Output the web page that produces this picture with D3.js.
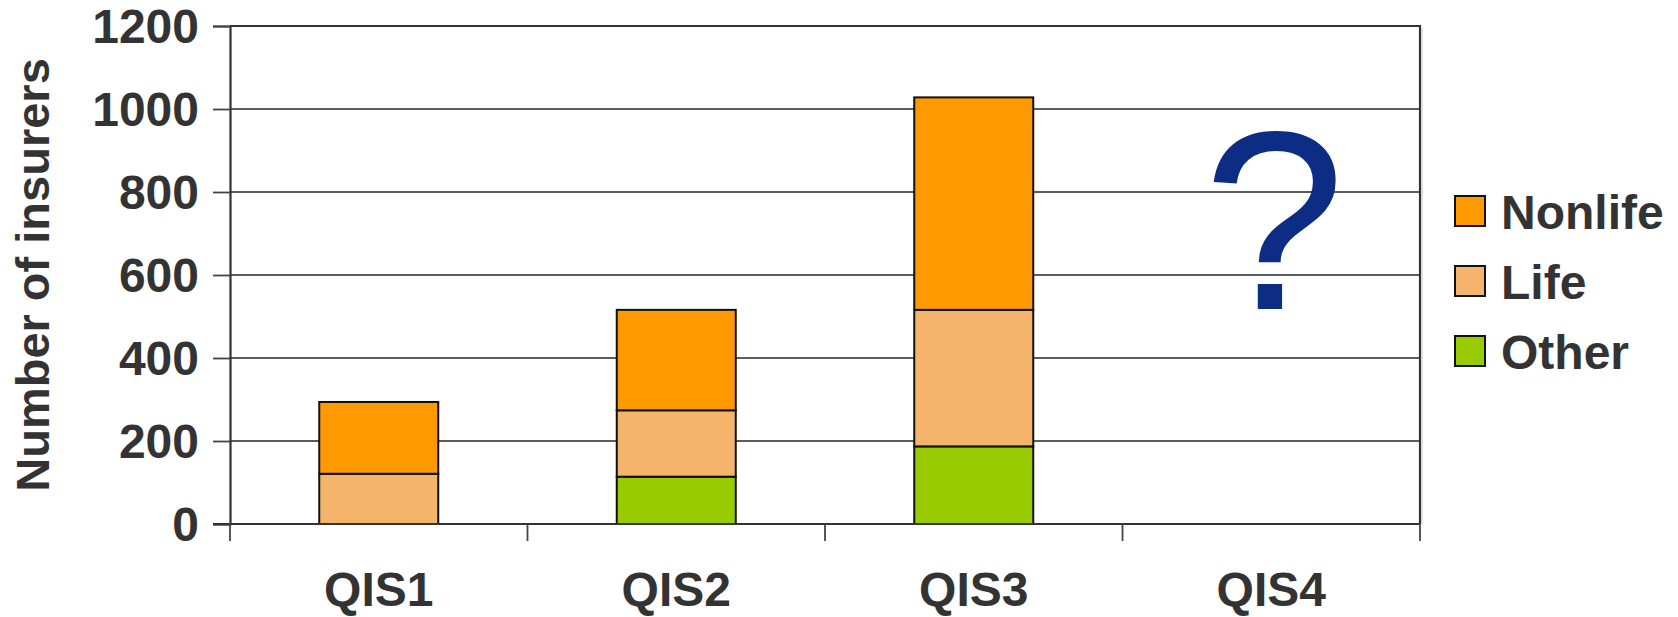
<!DOCTYPE html>
<html>
<head>
<meta charset="utf-8">
<script src="https://cdn.jsdelivr.net/npm/d3@7/dist/d3.min.js"></script>
<style>
  html, body { margin: 0; padding: 0; background: #ffffff; }
  svg { display: block; }
  text { font-family: "Liberation Sans", Arial, sans-serif; }
</style>
</head>
<body>
<svg id="chart" width="1678" height="617"></svg>
<script>
// Quantitative impact study rounds
const categories = ["QIS1", "QIS2", "QIS3", "QIS4"];
// Stack order from the bottom up
const seriesNames = ["Other", "Life", "Nonlife"];
const otherValues   = [0, 114, 187, null];
const lifeValues    = [121, 160, 329, null];
const nonlifeValues = [173, 242, 512, null];
const seriesColors = ["#99cc00", "#f4b46c", "#ff9900"];
const yTicks = [0, 200, 400, 600, 800, 1000, 1200];
const yTitle = "Number of insurers";
const pendingMark = "?";

const svg = d3.select("#chart");
const plotLeft = 230, plotRight = 1420, plotTop = 26, plotBottom = 524;

const x = d3.scaleBand().domain(categories).range([plotLeft, plotRight])
  .paddingInner(0.6).paddingOuter(0.3);
const y = d3.scaleLinear().domain([0, 1200]).range([plotBottom, plotTop]);

const rows = categories.map((c, i) => ({
  cat: c,
  Other: otherValues[i] || 0,
  Life: lifeValues[i] || 0,
  Nonlife: nonlifeValues[i] || 0,
  has: lifeValues[i] != null
}));
const stack = d3.stack().keys(seriesNames)(rows);

// horizontal gridlines
svg.append("g").selectAll("line").data(yTicks.filter(v => v > 0 && v < 1200)).join("line")
  .attr("x1", plotLeft).attr("x2", plotRight)
  .attr("y1", d => y(d)).attr("y2", d => y(d))
  .attr("stroke", "#5c5c5c").attr("stroke-width", 1.8);

// frame: top and right edges
svg.append("line").attr("x1", plotLeft).attr("x2", plotRight + 1)
  .attr("y1", y(1200)).attr("y2", y(1200))
  .attr("stroke", "#333").attr("stroke-width", 2.2);
svg.append("line").attr("x1", plotRight).attr("x2", plotRight)
  .attr("y1", y(1200)).attr("y2", y(0))
  .attr("stroke", "#333").attr("stroke-width", 2.2);
svg.append("line").attr("x1", plotRight + 2).attr("x2", plotRight + 2)
  .attr("y1", y(1200) + 2).attr("y2", y(0))
  .attr("stroke", "#cfcfcf").attr("stroke-width", 1.2);

// stacked bars
svg.append("g").selectAll("g").data(stack).join("g")
  .attr("fill", (d, i) => seriesColors[i])
  .selectAll("rect").data(d => d.filter(s => s.data.has && s[1] > s[0])).join("rect")
  .attr("x", d => x(d.data.cat))
  .attr("width", x.bandwidth())
  .attr("y", d => y(d[1]))
  .attr("height", d => y(d[0]) - y(d[1]))
  .attr("stroke", "#111").attr("stroke-width", 2);

// y axis
const yAxis = svg.append("g").attr("transform", `translate(${plotLeft},0)`)
  .call(d3.axisLeft(y).tickValues(yTicks).tickSize(17).tickPadding(14).tickFormat(d3.format("d")));
yAxis.select(".domain").attr("stroke", "#333").attr("stroke-width", 2.2);
yAxis.selectAll(".tick line").attr("stroke", "#444").attr("stroke-width", 1.8);
yAxis.selectAll(".tick text")
  .attr("font-size", 48).attr("font-weight", "bold").attr("fill", "#333")
  .attr("font-family", "'Liberation Sans', Arial, sans-serif")
  .attr("dy", "0.35em");

// x axis baseline and category separators
svg.append("line").attr("x1", plotLeft - 17).attr("x2", plotRight)
  .attr("y1", y(0)).attr("y2", y(0))
  .attr("stroke", "#333").attr("stroke-width", 2.2);
const step = x.step();
const bounds = d3.range(categories.length + 1).map(i => x.range()[0] + i * step);
svg.append("g").selectAll("line").data(bounds).join("line")
  .attr("x1", d => d).attr("x2", d => d)
  .attr("y1", y(0)).attr("y2", y(0) + 17)
  .attr("stroke", "#444").attr("stroke-width", 1.8);

// category labels
svg.append("g").selectAll("text").data(categories).join("text")
  .attr("x", d => x(d) + x.bandwidth() / 2)
  .attr("y", 606)
  .attr("text-anchor", "middle")
  .attr("font-size", 48).attr("font-weight", "bold").attr("fill", "#333")
  .text(d => d);

// y axis title
svg.append("text")
  .attr("transform", `translate(49,${(y(0) + y(1200)) / 2}) rotate(-90)`)
  .attr("text-anchor", "middle")
  .attr("font-size", 47).attr("font-weight", "bold").attr("fill", "#333")
  .text(yTitle);

// question mark over the round without results
svg.append("text")
  .attr("x", x("QIS4") + x.bandwidth() / 2 + 3)
  .attr("y", 309)
  .attr("text-anchor", "middle")
  .attr("font-size", 255).attr("fill", "#0c2d83")
  .text(pendingMark);

// legend (top of stack first)
const legendOrder = [2, 1, 0];
const legend = svg.append("g").selectAll("g").data(legendOrder).join("g")
  .attr("transform", (d, i) => `translate(1455,${196 + i * 70})`);
legend.append("rect").attr("width", 30).attr("height", 30)
  .attr("fill", d => seriesColors[d]).attr("stroke", "#111").attr("stroke-width", 2);
legend.append("text").attr("x", 46).attr("y", 33)
  .attr("font-size", 48).attr("font-weight", "bold").attr("fill", "#333")
  .text(d => seriesNames[d]);
</script>
</body>
</html>
